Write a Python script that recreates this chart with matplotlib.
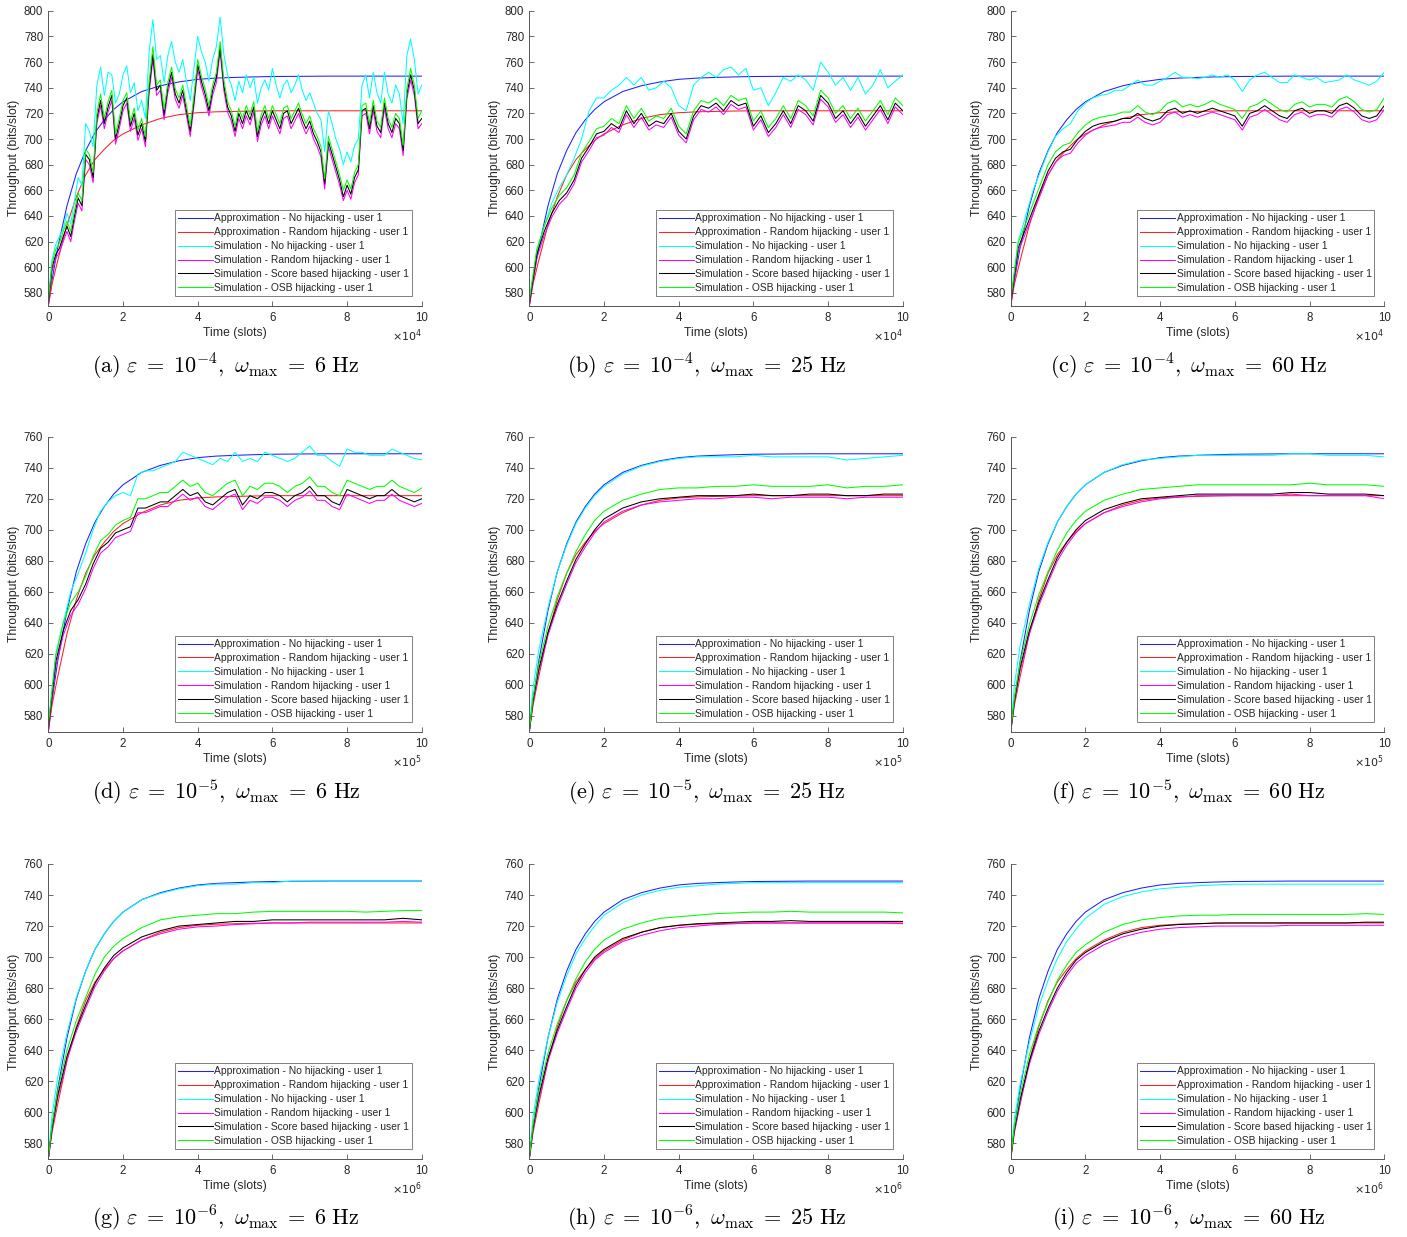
import numpy as np
import matplotlib.pyplot as plt

plt.rcParams['font.family'] = ['Liberation Sans', 'DejaVu Sans']
plt.rcParams['mathtext.fontset'] = 'cm'

labels = ['Approximation - No hijacking - user 1',
          'Approximation - Random hijacking - user 1',
          'Simulation - No hijacking - user 1',
          'Simulation - Random hijacking - user 1',
          'Simulation - Score based hijacking - user 1',
          'Simulation - OSB hijacking - user 1']
colors = ['#2020ff', '#ff2020', '#00ffff', '#ff00ff', '#000000', '#00ff00']

# time grids, in units of the x10^k factor printed under each axis
t_a = np.linspace(0, 10, 101)
t_bcd = np.linspace(0, 10, 51)
t_s = [0, 0.1, 0.25, 0.5, 0.75, 1, 1.25, 1.5, 1.75, 2, 2.5, 3, 3.5, 4, 4.5,
       5, 5.5, 6, 6.5, 7, 7.5, 8, 8.5, 9, 9.5, 10]

# analytical approximations (same shape in every panel)
approx_none = [570, 590, 615, 648, 673, 691, 705, 715, 723, 729, 737, 741.5, 744.5,
               746.5, 747.5, 748, 748.4, 748.7, 748.8, 748.9, 749, 749, 749, 749, 749, 749]
approx_random = [570, 587, 605, 633, 655, 672, 684, 692, 699, 704, 711, 716, 719,
                 720.5, 721.2, 721.5, 721.8, 722, 722, 722, 722, 722, 722, 722, 722, 722]

# (a) eps=1e-4, 6 Hz
cyan_a = [575, 606, 618, 624, 630, 642, 634, 652, 670, 664,
          712, 706, 694, 742, 756, 734, 752, 750, 728, 735,
          750, 757, 736, 744, 722, 730, 716, 768, 793, 762,
          765, 744, 765, 776, 760, 752, 762, 745, 730, 755,
          780, 768, 760, 745, 762, 772, 795, 766, 750, 742,
          730, 745, 736, 750, 740, 748, 728, 740, 746, 738,
          755, 742, 732, 742, 746, 736, 742, 750, 738, 730,
          736, 728, 720, 715, 690, 722, 712, 700, 692, 680,
          690, 682, 695, 700, 742, 750, 732, 752, 736, 728,
          752, 735, 728, 742, 735, 712, 765, 778, 762, 735,
          742]
magenta_a = [570, 597, 607, 612, 620, 628, 620, 636, 650, 644,
             684, 680, 666, 712, 726, 708, 721, 730, 696, 708,
             722, 728, 706, 716, 699, 708, 694, 736, 762, 734,
             738, 715, 736, 748, 731, 724, 734, 718, 702, 726,
             754, 741, 731, 718, 734, 744, 768, 738, 721, 714,
             702, 716, 708, 718, 711, 721, 698, 711, 718, 708,
             718, 711, 704, 716, 718, 708, 714, 720, 711, 704,
             710, 700, 694, 686, 661, 694, 684, 674, 664, 652,
             660, 653, 666, 672, 718, 720, 704, 722, 706, 701,
             724, 708, 701, 712, 708, 687, 731, 746, 734, 708,
             712]
black_a = [572, 600, 610, 615, 624, 632, 624, 640, 654, 648,
           688, 684, 670, 716, 730, 712, 725, 734, 700, 712,
           726, 732, 710, 720, 703, 712, 698, 740, 766, 738,
           742, 719, 740, 752, 735, 728, 738, 722, 706, 730,
           758, 745, 735, 722, 738, 748, 772, 742, 725, 718,
           706, 720, 712, 722, 715, 725, 702, 715, 722, 712,
           722, 715, 708, 720, 722, 712, 718, 724, 715, 708,
           714, 704, 698, 690, 665, 698, 688, 678, 668, 655,
           664, 657, 670, 676, 722, 724, 708, 726, 710, 705,
           728, 712, 705, 716, 712, 691, 735, 750, 738, 712,
           716]
green_a = [574, 603, 614, 619, 628, 636, 628, 644, 658, 652,
           692, 688, 674, 720, 735, 716, 729, 738, 704, 716,
           730, 736, 714, 724, 707, 716, 702, 745, 772, 742,
           746, 723, 744, 756, 739, 732, 742, 726, 710, 734,
           762, 749, 739, 726, 742, 752, 776, 746, 729, 722,
           710, 724, 716, 726, 719, 729, 706, 719, 726, 716,
           726, 719, 712, 724, 726, 716, 722, 728, 719, 712,
           718, 708, 702, 694, 669, 702, 692, 682, 672, 660,
           668, 661, 674, 680, 726, 728, 712, 730, 714, 709,
           732, 716, 709, 720, 716, 695, 739, 755, 742, 716,
           722]

# (b) eps=1e-4, 25 Hz
cyan_b = [575, 612, 632, 650, 662, 672, 685, 700, 722, 732,
          732, 738, 742, 748, 742, 748, 738, 740, 745, 740,
          726, 722, 742, 748, 752, 748, 754, 756, 750, 755,
          738, 740, 726, 736, 748, 745, 750, 746, 738, 760,
          752, 742, 748, 738, 748, 735, 742, 754, 740, 745,
          750]
magenta_b = [570, 607, 625, 639, 649, 655, 665, 682, 691, 701,
             703, 709, 705, 719, 709, 717, 707, 711, 709, 717,
             703, 697, 715, 723, 721, 725, 719, 727, 723, 725,
             707, 715, 702, 709, 719, 709, 723, 719, 711, 731,
             725, 713, 719, 709, 717, 707, 715, 723, 712, 725,
             719]
black_b = [572, 610, 628, 642, 652, 658, 668, 685, 694, 704,
           706, 712, 708, 722, 712, 720, 710, 714, 712, 720,
           706, 700, 718, 726, 724, 728, 722, 730, 726, 728,
           710, 718, 705, 712, 722, 712, 726, 722, 714, 734,
           728, 716, 722, 712, 720, 710, 718, 726, 715, 728,
           722]
green_b = [574, 614, 632, 646, 656, 662, 672, 689, 698, 708,
           710, 716, 712, 726, 716, 724, 714, 718, 716, 724,
           710, 704, 722, 730, 728, 732, 726, 734, 730, 732,
           714, 722, 709, 716, 726, 716, 730, 726, 718, 738,
           732, 720, 726, 716, 724, 714, 722, 730, 719, 732,
           726]

# (c) eps=1e-4, 60 Hz
cyan_c = [575, 620, 640, 660, 675, 690, 702, 708, 712, 722,
          728, 732, 734, 735, 738, 738, 742, 746, 742, 742,
          745, 748, 752, 748, 748, 747, 748, 750, 748, 750,
          746, 737, 746, 750, 752, 748, 744, 744, 750, 748,
          746, 748, 744, 745, 746, 750, 746, 744, 742, 745,
          752]
magenta_c = [570, 612, 627, 642, 657, 672, 682, 687, 689, 697,
             703, 707, 709, 710, 711, 713, 713, 717, 713, 711,
             713, 719, 721, 717, 719, 717, 719, 721, 719, 717,
             715, 707, 717, 719, 723, 719, 715, 713, 719, 721,
             717, 719, 719, 717, 723, 725, 721, 715, 713, 715,
             723]
black_c = [572, 615, 630, 645, 660, 675, 685, 690, 692, 700,
           706, 710, 712, 713, 714, 716, 716, 720, 716, 714,
           716, 722, 724, 720, 722, 720, 722, 724, 722, 720,
           718, 710, 720, 722, 726, 722, 718, 716, 722, 724,
           720, 722, 722, 720, 726, 728, 724, 718, 716, 718,
           726]
green_c = [574, 619, 634, 650, 665, 680, 690, 695, 697, 705,
           711, 715, 717, 718, 719, 721, 721, 726, 721, 719,
           722, 728, 730, 725, 727, 725, 727, 730, 727, 725,
           723, 716, 725, 727, 731, 727, 723, 721, 727, 729,
           725, 727, 727, 725, 731, 733, 729, 723, 721, 723,
           732]

# (d) eps=1e-5, 6 Hz
cyan_d = [575, 620, 640, 660, 672, 685, 700, 712, 718, 722,
          724, 722, 736, 738, 738, 740, 742, 744, 750, 748,
          746, 744, 742, 746, 744, 750, 744, 746, 744, 750,
          748, 746, 744, 746, 750, 754, 748, 748, 744, 741,
          752, 750, 750, 748, 748, 748, 752, 750, 748, 746,
          745]
magenta_d = [570, 612, 632, 645, 652, 662, 675, 685, 689, 695,
             697, 699, 711, 711, 713, 715, 715, 719, 723, 719,
             721, 715, 713, 717, 721, 723, 713, 719, 717, 721,
             721, 719, 715, 719, 721, 725, 719, 719, 715, 713,
             723, 721, 719, 717, 719, 719, 723, 719, 717, 715,
             717]
black_d = [572, 615, 635, 648, 655, 665, 678, 688, 692, 698,
           700, 702, 714, 714, 716, 718, 718, 722, 726, 722,
           724, 718, 716, 720, 724, 726, 716, 722, 720, 724,
           724, 722, 718, 722, 724, 728, 722, 722, 718, 716,
           726, 724, 722, 720, 722, 722, 726, 722, 720, 718,
           720]
green_d = [574, 619, 640, 653, 660, 670, 683, 693, 697, 703,
           706, 708, 720, 720, 722, 724, 724, 728, 732, 728,
           730, 724, 722, 726, 730, 732, 722, 728, 726, 730,
           730, 728, 724, 728, 730, 734, 728, 728, 724, 722,
           732, 730, 728, 726, 728, 728, 732, 728, 726, 724,
           727]

# (e) eps=1e-5, 25 Hz
cyan_e = [572, 598, 622, 650, 673, 690, 704, 714, 722, 728, 736, 741, 744,
          746, 747, 747, 747, 748, 747, 747, 747, 747, 745, 746, 747, 748]
magenta_e = [570, 589, 608, 632, 650, 665, 679, 689, 698, 705, 712, 716, 718,
             719, 720, 720, 721, 721, 720, 721, 721, 721, 720, 721, 721, 721]
black_e = [570, 590, 610, 634, 652, 667, 681, 691, 700, 707, 714, 718, 720,
           721, 722, 722, 722, 723, 722, 722, 723, 723, 722, 722, 723, 723]
green_e = [570, 592, 613, 638, 657, 672, 686, 697, 706, 712, 719, 723, 726,
           727, 727, 728, 728, 729, 728, 728, 728, 729, 727, 728, 728, 729]

# (f) eps=1e-5, 60 Hz
cyan_f = [572, 600, 625, 652, 675, 692, 705, 715, 723, 729, 737, 742, 745,
          746, 747, 748, 748, 748, 748, 748, 749, 749, 748, 748, 748, 747]
magenta_f = [570, 589, 609, 633, 651, 666, 680, 690, 698, 704, 711, 715, 718,
             720, 721, 722, 722, 722, 722, 722, 723, 722, 722, 722, 722, 720]
black_f = [570, 590, 611, 635, 653, 668, 682, 692, 700, 706, 713, 717, 720,
           721, 722, 723, 723, 723, 723, 723, 724, 724, 723, 723, 723, 722]
green_f = [570, 592, 614, 639, 658, 673, 687, 698, 706, 712, 719, 723, 726,
           727, 728, 729, 729, 729, 729, 729, 729, 730, 729, 729, 729, 728]

# (g) eps=1e-6, 6 Hz
cyan_g = [571, 598, 622, 651, 674, 691, 705, 715, 723, 729, 737, 741, 744,
          746, 747, 747, 748, 748, 749, 749, 749, 749, 749, 749, 749, 749]
magenta_g = [570, 589, 609, 634, 652, 667, 681, 691, 699, 704, 711, 715, 718,
             719.5, 720, 721, 721.5, 722, 722, 722.5, 722.5, 722.5, 722.5, 722.5, 723, 722.5]
black_g = [570, 590, 611, 636, 654, 669, 683, 693, 701, 706, 713, 717, 720,
           721, 722, 723, 723, 724, 724, 724, 724, 724, 724, 724, 725, 724]
green_g = [570, 592, 614, 640, 659, 674, 689, 700, 707, 712, 719, 724, 726,
           727, 728, 728, 729, 729.5, 729.5, 729.5, 729.5, 729.5, 729, 729.5, 730, 730]

# (h) eps=1e-6, 25 Hz
cyan_h = [571, 597, 620, 648, 671, 688, 702, 712, 720, 727, 735, 740, 743,
          745, 746, 747, 747.5, 748, 748, 748, 748, 748, 748, 748, 748, 748]
magenta_h = [570, 589, 608, 633, 651, 666, 680, 690, 698, 703, 710, 714, 717,
             719, 720, 721, 721.5, 722, 722, 722, 722, 722, 722, 722, 722, 721.5]
black_h = [570, 590, 610, 635, 653, 668, 682, 692, 700, 705, 712, 716, 719,
           720.5, 721.5, 722, 722.5, 723, 723, 723.5, 723, 723, 723, 723, 723, 723]
green_h = [570, 592, 613, 638, 657, 672, 686, 697, 705, 711, 718, 722, 725,
           726, 727, 728, 728.5, 729, 729, 729.5, 729, 729, 729, 729, 729, 728.5]

# (i) eps=1e-6, 60 Hz
cyan_i = [571, 596, 618, 645, 668, 685, 699, 710, 718, 725, 734, 739, 742,
          744, 745, 746, 746.5, 747, 747, 747, 747, 747, 747, 747, 747, 747]
magenta_i = [570, 588, 606, 631, 650, 665, 678, 688, 696, 701, 708, 713, 716,
             718, 719, 719.5, 720, 720, 720, 720, 720.5, 720.5, 720.5, 720.5, 720.5, 720.5]
black_i = [570, 589, 608, 633, 652, 667, 680, 690, 698, 703, 710, 715, 718,
           720, 721, 721.5, 722, 722, 722, 722, 722, 722, 722, 722, 722.5, 722.5]
green_i = [570, 591, 611, 637, 656, 671, 685, 695, 703, 708, 716, 721, 724,
           725.5, 726.5, 727, 727, 727.5, 727.5, 727.5, 727.5, 727.5, 727.5, 727.5, 728, 727.5]

panels = [
    ('a', 4, 6, t_a, [cyan_a, magenta_a, black_a, green_a]),
    ('b', 4, 25, t_bcd, [cyan_b, magenta_b, black_b, green_b]),
    ('c', 4, 60, t_bcd, [cyan_c, magenta_c, black_c, green_c]),
    ('d', 5, 6, t_bcd, [cyan_d, magenta_d, black_d, green_d]),
    ('e', 5, 25, t_s, [cyan_e, magenta_e, black_e, green_e]),
    ('f', 5, 60, t_s, [cyan_f, magenta_f, black_f, green_f]),
    ('g', 6, 6, t_s, [cyan_g, magenta_g, black_g, green_g]),
    ('h', 6, 25, t_s, [cyan_h, magenta_h, black_h, green_h]),
    ('i', 6, 60, t_s, [cyan_i, magenta_i, black_i, green_i]),
]

W, H = 1407, 1237
fig = plt.figure(figsize=(W / 100, H / 100), dpi=100)

col_left = [48.3, 529.3, 1010.7]
ax_w = 373.5
row_box = [(10.7, 305.8), (436.7, 731.5), (864.0, 1158.8)]
caption_y = [367, 792, 1219]
grey = '#262626'

for i, (letter, eps, wmax, t, sims) in enumerate(panels):
    r, c = divmod(i, 3)
    top, bot = row_box[r]
    ax = fig.add_axes([col_left[c] / W, 1 - bot / H, ax_w / W, (bot - top) / H])

    ax.plot(t_s, approx_none, color=colors[0], lw=0.75, label=labels[0])
    ax.plot(t_s, approx_random, color=colors[1], lw=0.75, label=labels[1])
    for k, ys in enumerate(sims):
        ax.plot(t, ys, color=colors[k + 2], lw=0.75, label=labels[k + 2])

    ymax = 800 if r == 0 else 760
    ax.set_xlim(0, 10)
    ax.set_ylim(570, ymax)
    ax.set_xticks(range(0, 11, 2))
    ax.set_yticks(range(580, ymax + 1, 20))

    for s in ['top', 'right']:
        ax.spines[s].set_visible(False)
    for s in ['left', 'bottom']:
        ax.spines[s].set_color('#555555')
        ax.spines[s].set_linewidth(0.7)
    ax.tick_params(direction='in', length=3.5, width=0.6, color='#555555',
                   labelcolor=grey, labelsize=8.3)
    ax.tick_params(axis='x', pad=4.5)
    ax.tick_params(axis='y', pad=3.6)

    ax.set_xlabel('Time (slots)', fontsize=8.8, color=grey, labelpad=2)
    ax.set_ylabel('Throughput (bits/slot)', fontsize=8.8, color=grey, labelpad=2.5)
    ax.text(1.0, -0.102, r'$\times10^{%d}$' % eps,
            transform=ax.transAxes, ha='right', va='center', fontsize=8,
            color=grey, math_fontfamily='dejavusans')

    leg = ax.legend(loc='lower right', bbox_to_anchor=(0.974, 0.033), fontsize=7.4,
                    handlelength=3.4, handletextpad=0.15, labelspacing=0.38,
                    borderpad=0.3, borderaxespad=0, fancybox=False, framealpha=1)
    leg.get_frame().set_edgecolor('#808080')
    leg.get_frame().set_linewidth(0.7)
    for txt in leg.get_texts():
        txt.set_color(grey)

    fig.text((col_left[c] + ax_w / 2 - 9) / W, 1 - caption_y[r] / H,
             r'$\mathrm{(%s)}\ \varepsilon\;=\;10^{-%d},\ \omega_{\max}\;=\;%d\ \mathrm{Hz}$'
             % (letter, eps, wmax),
             ha='center', va='center', fontsize=16)

fig.savefig('out.png', dpi=100)
